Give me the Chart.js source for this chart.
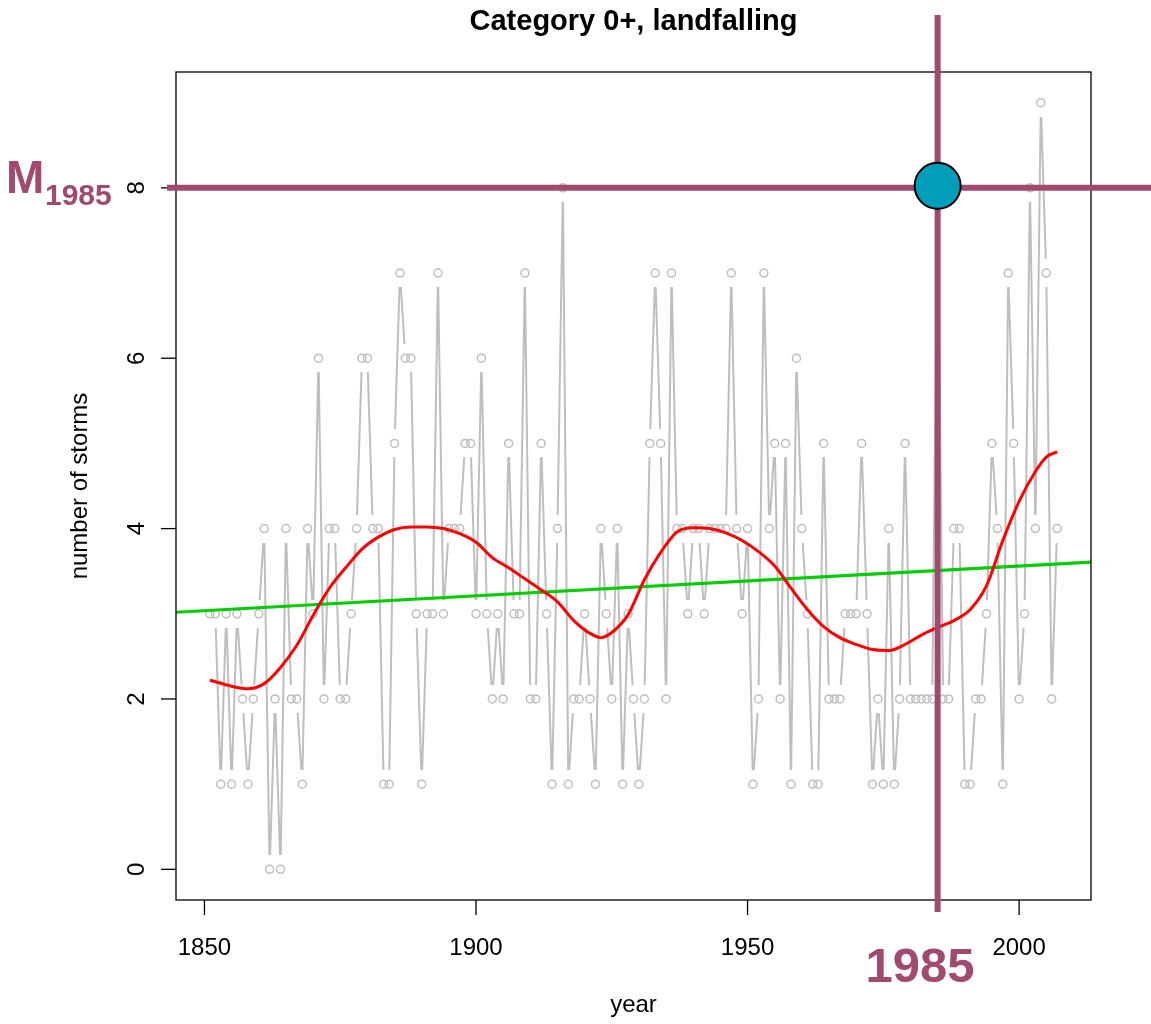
<!DOCTYPE html>
<html>
<head>
<meta charset="utf-8">
<script src="https://cdn.jsdelivr.net/npm/chart.js@4"></script>
<style>
  html, body { margin: 0; padding: 0; background: #fff; }
  canvas { display: block; }
</style>
</head>
<body>
<canvas id="storms" width="1151" height="1024"></canvas>
<script>
// landfalling storms per year, 1851-2007
const firstYear = 1851;
const counts = [
  3, 3, 1, 3, 1, 3, 2, 1, 2, 3,
  4, 0, 2, 0, 4, 2, 2, 1, 4, 3,
  6, 2, 4, 4, 2, 2, 3, 4, 6, 6,
  4, 4, 1, 1, 5, 7, 6, 6, 3, 1,
  3, 3, 7, 3, 4, 4, 4, 5, 5, 3,
  6, 3, 2, 3, 2, 5, 3, 3, 7, 2,
  2, 5, 3, 1, 4, 8, 1, 2, 2, 3,
  2, 1, 4, 3, 2, 4, 1, 3, 2, 1,
  2, 5, 7, 5, 2, 7, 4, 4, 3, 4,
  4, 3, 4, 4, 4, 4, 7, 4, 3, 4,
  1, 2, 7, 4, 5, 2, 5, 1, 6, 4,
  3, 1, 1, 5, 2, 2, 2, 3, 3, 3,
  5, 3, 1, 2, 1, 4, 1, 2, 5, 2,
  2, 2, 2, 2, 8, 2, 2, 4, 4, 1,
  1, 2, 2, 3, 5, 4, 1, 7, 5, 2,
  3, 8, 4, 9, 7, 2, 4
];
const years = counts.map((_, i) => firstYear + i);

// smoothed curve (red)
const smoothYears = [1851, 1855, 1858, 1861, 1864, 1867, 1870, 1873, 1876, 1879, 1882, 1885, 1888, 1891, 1894, 1897,
  1900, 1903, 1906, 1909, 1912, 1915, 1918, 1921, 1923, 1925, 1928, 1931, 1934, 1937, 1940, 1943, 1946, 1949,
  1952, 1955, 1958, 1961, 1964, 1967, 1970, 1973, 1976, 1979, 1982, 1985, 1988, 1991, 1994, 1997, 2000, 2003, 2005, 2007];
const smoothValues = [2.22, 2.15, 2.12, 2.18, 2.37, 2.63, 2.98, 3.30, 3.54, 3.76, 3.90, 3.99, 4.02, 4.02, 4.00, 3.94,
  3.84, 3.66, 3.54, 3.41, 3.28, 3.14, 2.92, 2.77, 2.72, 2.78, 2.99, 3.40, 3.72, 3.96, 4.01, 4.00, 3.95, 3.86,
  3.73, 3.56, 3.30, 3.05, 2.85, 2.72, 2.64, 2.58, 2.57, 2.64, 2.75, 2.84, 2.92, 3.05, 3.33, 3.86, 4.32, 4.67, 4.84, 4.90];

// linear trend (green), spans the full plot width
const trendYears = [1840, 2020];
const trendValues = [3.00, 3.63];

const xTicks = [1850, 1900, 1950, 2000];
const yTicks = [0, 2, 4, 6, 8];

const markYear = 1985;
const markValue = 8;

const PURPLE = 'rgb(160, 74, 114)';
const GREY = 'rgb(190, 190, 190)';
const FONT = '"Liberation Sans", Arial, Helvetica, sans-serif';

const pts = years.map((yr, i) => ({ x: yr, y: counts[i] }));

// white notch drawn over the line at each point so segments stop short of the circles
const notch = document.createElement('canvas');
notch.width = 8;
notch.height = 28;
const nctx = notch.getContext('2d');
nctx.fillStyle = '#fff';
nctx.fillRect(0, 0, notch.width, notch.height);

function seg(ctx, x1, y1, x2, y2) {
  ctx.beginPath();
  ctx.moveTo(x1, y1);
  ctx.lineTo(x2, y2);
  ctx.stroke();
}

// base-graphics style frame: box, outward ticks, rotated y labels, titles
const frame = {
  id: 'frame',
  afterDatasetsDraw(chart) {
    const { ctx, chartArea: a, scales: { x, y } } = chart;
    ctx.save();
    ctx.strokeStyle = '#000';
    ctx.lineWidth = 1.3;
    ctx.strokeRect(a.left, a.top, a.right - a.left, a.bottom - a.top);

    ctx.fillStyle = '#000';
    ctx.font = '24px ' + FONT;
    ctx.textAlign = 'center';
    ctx.textBaseline = 'middle';
    xTicks.forEach(t => {
      const px = x.getPixelForValue(t);
      seg(ctx, px, a.bottom, px, a.bottom + 15);
      ctx.fillText(String(t), px, a.bottom + 48);
    });
    yTicks.forEach(t => {
      const py = y.getPixelForValue(t);
      seg(ctx, a.left - 15, py, a.left, py);
      ctx.save();
      ctx.translate(a.left - 39, py);
      ctx.rotate(-Math.PI / 2);
      ctx.fillText(String(t), 0, 0);
      ctx.restore();
    });

    const cx = (a.left + a.right) / 2;
    ctx.fillText('year', cx, 1005);
    ctx.save();
    ctx.translate(80, (a.top + a.bottom) / 2);
    ctx.rotate(-Math.PI / 2);
    ctx.fillText('number of storms', 0, 0);
    ctx.restore();

    ctx.font = 'bold 29px ' + FONT;
    ctx.fillText('Category 0+, landfalling', cx, 22);

    // crosshair on the marked year
    const mx = x.getPixelForValue(markYear);
    const my = y.getPixelForValue(markValue);
    ctx.strokeStyle = PURPLE;
    ctx.lineWidth = 6;
    ctx.lineCap = 'butt';
    seg(ctx, 167, my, chart.width, my);
    seg(ctx, mx, 15, mx, 912);

    ctx.beginPath();
    ctx.arc(mx, my - 2, 23, 0, Math.PI * 2);
    ctx.fillStyle = 'rgb(0, 158, 184)';
    ctx.fill();
    ctx.lineWidth = 2;
    ctx.strokeStyle = '#000';
    ctx.stroke();

    ctx.fillStyle = PURPLE;
    ctx.textAlign = 'left';
    ctx.textBaseline = 'alphabetic';
    ctx.font = 'bold 46px ' + FONT;
    ctx.fillText('M', 6, 193);
    ctx.font = 'bold 30px ' + FONT;
    ctx.fillText(String(markYear), 45, 205);
    ctx.font = 'bold 49px ' + FONT;
    ctx.textAlign = 'center';
    ctx.fillText(String(markYear), 920, 982);
    ctx.restore();
  }
};

new Chart(document.getElementById('storms'), {
  type: 'line',
  data: {
    datasets: [
      {
        data: pts,
        borderColor: GREY,
        borderWidth: 2,
        pointRadius: 0,
        tension: 0,
        order: 6
      },
      {
        data: pts,
        showLine: false,
        pointStyle: notch,
        pointRadius: 14,
        order: 5
      },
      {
        data: pts,
        showLine: false,
        pointRadius: 4,
        pointBorderWidth: 1.5,
        pointBackgroundColor: 'rgba(0,0,0,0)',
        pointBorderColor: GREY,
        order: 4
      },
      {
        data: trendYears.map((yr, i) => ({ x: yr, y: trendValues[i] })),
        borderColor: 'rgb(0, 205, 0)',
        borderWidth: 3,
        pointRadius: 0,
        order: 3
      },
      {
        data: smoothYears.map((yr, i) => ({ x: yr, y: smoothValues[i] })),
        borderColor: 'rgb(255, 0, 0)',
        borderWidth: 3,
        pointRadius: 0,
        cubicInterpolationMode: 'monotone',
        order: 2
      }
    ]
  },
  options: {
    responsive: false,
    animation: false,
    events: [],
    devicePixelRatio: 1,
    layout: { padding: { left: 176, top: 72, right: 60, bottom: 124 } },
    plugins: { legend: { display: false }, tooltip: { enabled: false }, title: { display: false } },
    scales: {
      x: { type: 'linear', min: 1844.76, max: 2013.24, display: false },
      y: { type: 'linear', min: -0.36, max: 9.36, display: false }
    }
  },
  plugins: [frame]
});
</script>
</body>
</html>
